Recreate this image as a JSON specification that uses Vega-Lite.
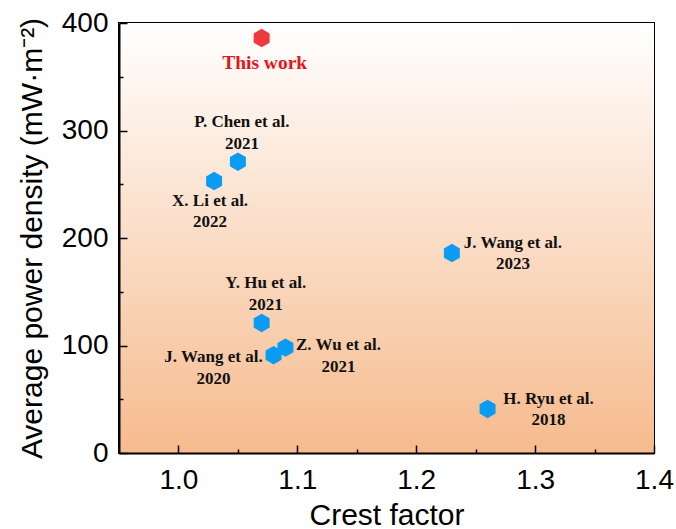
{
  "$schema": "https://vega.github.io/schema/vega-lite/v6.json",
  "width": 535,
  "height": 430,
  "autosize": {"type": "none"},
  "padding": {"left": 119, "top": 23, "right": 22, "bottom": 76},
  "background": "white",
  "config": {
    "view": {"stroke": "black", "strokeWidth": 2},
    "font": "Liberation Sans"
  },
  "data": {
    "values": [
      {"name": "This work", "label": "This work", "cf": 1.07, "apd": 386},
      {"name": "P. Chen 2021", "label": "P. Chen et al.\n2021", "cf": 1.05, "apd": 271},
      {"name": "X. Li 2022", "label": "X. Li et al.\n2022", "cf": 1.03, "apd": 253},
      {"name": "Y. Hu 2021", "label": "Y. Hu et al.\n2021", "cf": 1.07, "apd": 121},
      {"name": "J. Wang 2020", "label": "J. Wang et al.\n2020", "cf": 1.08, "apd": 91},
      {"name": "Z. Wu 2021", "label": "Z. Wu et al.\n2021", "cf": 1.09, "apd": 98},
      {"name": "J. Wang 2023", "label": "J. Wang et al.\n2023", "cf": 1.23, "apd": 186},
      {"name": "H. Ryu 2018", "label": "H. Ryu et al.\n2018", "cf": 1.26, "apd": 41}
    ]
  },
  "layer": [
    {
      "data": {"values": [{}]},
      "mark": {
        "type": "rect",
        "fill": {
          "gradient": "linear", "x1": 0, "y1": 0, "x2": 0, "y2": 1,
          "stops": [
            {"offset": 0, "color": "#FFFFFF"},
            {"offset": 1, "color": "#F6BB8E"}
          ]
        }
      },
      "encoding": {
        "x": {"datum": 0.95, "type": "quantitative", "scale": {"domain": [0.95, 1.4], "nice": false, "zero": false},
          "axis": {"values": [1.0, 1.05, 1.1, 1.15, 1.2, 1.25, 1.3, 1.35, 1.4],
            "labelExpr": "abs(datum.value*10 - round(datum.value*10)) < 0.001 ? format(datum.value, '.1f') : ''",
            "title": "Crest factor", "zindex": 1,
            "domainColor": "black", "domainWidth": 2, "tickColor": "black", "tickWidth": 1.5,
            "tickSize": -8,
            "tickDash": {"condition": {"test": "abs(datum.value*10 - round(datum.value*10)) < 0.001", "value": [20, 0]}, "value": [4, 40]},
            "labelFontSize": 28, "labelColor": "black", "labelPadding": 21, "grid": false,
            "titleFontSize": 30, "titleFontWeight": "normal", "titleColor": "black", "titlePadding": 6, "labelFlush": false}},
        "x2": {"datum": 1.4},
        "y": {"datum": 0, "type": "quantitative", "scale": {"domain": [0, 400], "nice": false},
          "axis": {"values": [0, 50, 100, 150, 200, 250, 300, 350, 400],
            "labelExpr": "datum.value % 100 === 0 ? datum.label : ''",
            "title": "Average power density (mW·m⁻²)", "zindex": 1,
            "domainColor": "black", "domainWidth": 2, "tickColor": "black", "tickWidth": 1.5,
            "tickSize": -8,
            "tickDash": {"condition": {"test": "datum.value % 100 === 0", "value": [20, 0]}, "value": [4, 40]},
            "labelFontSize": 28, "labelColor": "black", "labelPadding": 19, "grid": false,
            "titleFontSize": 30, "titleFontWeight": "normal", "titleColor": "black", "titlePadding": 14, "labelFlush": false}},
        "y2": {"datum": 400}
      }
    },
    {
      "mark": {"type": "point", "filled": true, "opacity": 1, "size": 340,
        "shape": "M0,-1L0.866,-0.5L0.866,0.5L0,1L-0.866,0.5L-0.866,-0.5Z"},
      "encoding": {
        "x": {"field": "cf", "type": "quantitative"},
        "y": {"field": "apd", "type": "quantitative"},
        "color": {"condition": {"test": "datum.name === 'This work'", "value": "#EE3A3E"}, "value": "#0A9BF3"}
      }
    },
    {
      "transform": [{"filter": "datum.name === 'This work'"}],
      "mark": {"type": "text", "font": "Liberation Serif", "fontWeight": "bold", "fontSize": 19.5, "color": "#E8141C", "dy": 25, "dx": 3, "baseline": "middle"},
      "encoding": {"x": {"field": "cf", "type": "quantitative"}, "y": {"field": "apd", "type": "quantitative"}, "text": {"field": "label"}}
    },
    {
      "transform": [{"filter": "datum.name === 'P. Chen 2021' || datum.name === 'Y. Hu 2021'"}],
      "mark": {"type": "text", "font": "Liberation Serif", "fontWeight": "bold", "fontSize": 17, "color": "#111", "lineBreak": "\n", "lineHeight": 22, "dy": -40, "dx": 4, "baseline": "middle"},
      "encoding": {"x": {"field": "cf", "type": "quantitative"}, "y": {"field": "apd", "type": "quantitative"}, "text": {"field": "label"}}
    },
    {
      "transform": [{"filter": "datum.name === 'X. Li 2022'"}],
      "mark": {"type": "text", "font": "Liberation Serif", "fontWeight": "bold", "fontSize": 17, "color": "#111", "lineBreak": "\n", "lineHeight": 21, "dy": 20, "dx": -4, "baseline": "middle"},
      "encoding": {"x": {"field": "cf", "type": "quantitative"}, "y": {"field": "apd", "type": "quantitative"}, "text": {"field": "label"}}
    },
    {
      "transform": [{"filter": "datum.name === 'J. Wang 2020'"}],
      "mark": {"type": "text", "font": "Liberation Serif", "fontWeight": "bold", "fontSize": 17, "color": "#111", "lineBreak": "\n", "lineHeight": 22, "dy": 2, "dx": -60, "baseline": "middle"},
      "encoding": {"x": {"field": "cf", "type": "quantitative"}, "y": {"field": "apd", "type": "quantitative"}, "text": {"field": "label"}}
    },
    {
      "transform": [{"filter": "datum.name === 'Z. Wu 2021'"}],
      "mark": {"type": "text", "font": "Liberation Serif", "fontWeight": "bold", "fontSize": 17, "color": "#111", "lineBreak": "\n", "lineHeight": 22, "dy": -3, "dx": 53, "baseline": "middle"},
      "encoding": {"x": {"field": "cf", "type": "quantitative"}, "y": {"field": "apd", "type": "quantitative"}, "text": {"field": "label"}}
    },
    {
      "transform": [{"filter": "datum.name === 'J. Wang 2023' || datum.name === 'H. Ryu 2018'"}],
      "mark": {"type": "text", "font": "Liberation Serif", "fontWeight": "bold", "fontSize": 17, "color": "#111", "lineBreak": "\n", "lineHeight": 21, "dy": -10, "dx": 61, "baseline": "middle"},
      "encoding": {"x": {"field": "cf", "type": "quantitative"}, "y": {"field": "apd", "type": "quantitative"}, "text": {"field": "label"}}
    }
  ]
}
